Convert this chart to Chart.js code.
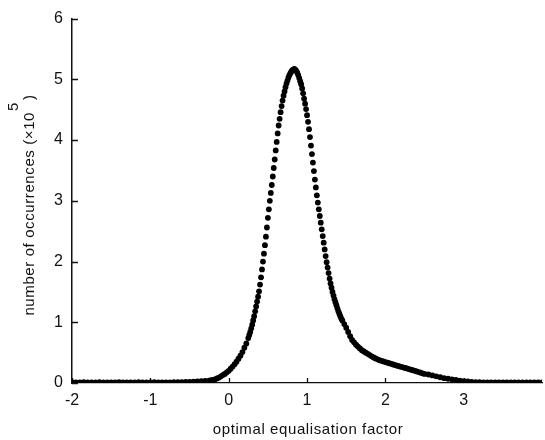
<!DOCTYPE html>
<html>
<head>
<meta charset="utf-8">
<script src="https://cdn.jsdelivr.net/npm/chart.js@4.4.1/dist/chart.umd.min.js"></script>
<style>
  html, body { margin: 0; padding: 0; background: #fff; }
  #wrap { width: 545px; height: 440px; }
</style>
</head>
<body>
<div id="wrap"><canvas id="myChart"></canvas></div>
<script>
// histogram of the optimal equalisation factor (units of 1e5)
const xTicks = [-2, -1, 0, 1, 2, 3];
const yTicks = [0, 1, 2, 3, 4, 5, 6];

// each block: first x, spacing, then the counts
const leftTailStart = -2.0, leftTailStep = 0.05;
const leftTail = [
  0.012, 0.01, 0.01, 0.012, 0.01, 0.01, 0.01, 0.012, 0.01, 0.01,
  0.01, 0.01, 0.012, 0.01, 0.01, 0.01, 0.01, 0.012, 0.01, 0.01,
  0.01, 0.012, 0.01, 0.01, 0.01, 0.01, 0.012, 0.014, 0.016, 0.018,
  0.02, 0.022, 0.026, 0.03, 0.035
];

const riseStart = -0.25, riseStep = 0.025;
const rise = [
  0.04, 0.045, 0.05, 0.06, 0.075, 0.09, 0.11, 0.13, 0.15, 0.175,
  0.2, 0.235, 0.27, 0.31, 0.35, 0.4, 0.45, 0.51, 0.58, 0.65
];

const peakStart = 0.25, peakStep = 0.0125;
const peak = [
  0.74, 0.79, 0.84, 0.90, 0.96, 1.03, 1.10, 1.18,
  1.26, 1.34, 1.42, 1.51, 1.62, 1.74, 1.87, 2.00,
  2.13, 2.27, 2.41, 2.56, 2.72, 2.86, 3.00, 3.13,
  3.26, 3.40, 3.54, 3.68, 3.83, 3.97, 4.11, 4.24,
  4.35, 4.46, 4.56, 4.65, 4.73, 4.80, 4.87, 4.93,
  4.98, 5.03, 5.07, 5.10, 5.13, 5.15, 5.16, 5.17,
  5.16, 5.14, 5.11, 5.07, 5.02, 4.97, 4.92, 4.85,
  4.77, 4.68, 4.60, 4.51, 4.41, 4.30, 4.18, 4.05,
  3.91, 3.77, 3.63, 3.49, 3.35, 3.22, 3.09, 2.97,
  2.86, 2.75, 2.64, 2.53, 2.42, 2.31, 2.20, 2.09,
  1.99, 1.90, 1.81, 1.72, 1.64, 1.57, 1.50, 1.44,
  1.38, 1.33, 1.28, 1.23, 1.18, 1.14, 1.10, 1.06,
  1.03
];

const fallStart = 1.475, fallStep = 0.025;
const fall = [
  0.97, 0.91, 0.84, 0.77, 0.71, 0.67, 0.63, 0.60, 0.57, 0.54,
  0.52, 0.50, 0.48, 0.46, 0.44, 0.42, 0.405, 0.39, 0.375, 0.365,
  0.355, 0.345, 0.335, 0.325, 0.315, 0.305, 0.295, 0.285, 0.276, 0.267,
  0.258, 0.249, 0.24, 0.23, 0.22, 0.21, 0.20, 0.19, 0.18, 0.17,
  0.16, 0.15
];

const rightTailStart = 2.55, rightTailStep = 0.05;
const rightTail = [
  0.14, 0.125, 0.11, 0.095, 0.08, 0.07, 0.06, 0.05, 0.04, 0.032,
  0.025, 0.02, 0.015, 0.012, 0.01, 0.008, 0.008, 0.008, 0.008, 0.008,
  0.008, 0.008, 0.008, 0.008, 0.008, 0.008, 0.008, 0.008, 0.008, 0.008
];

const xTitle = "optimal equalisation factor";
const yTitle = "number of occurrences (\u00d710";
const yTitleExp = "5";

function block(start, step, values) {
  return values.map((v, i) => ({ x: +(start + i * step).toFixed(4), y: v }));
}

const points = [].concat(
  block(leftTailStart, leftTailStep, leftTail),
  block(riseStart, riseStep, rise),
  block(peakStart, peakStep, peak),
  block(fallStart, fallStep, fall),
  block(rightTailStart, rightTailStep, rightTail)
);

const FONT = '"Liberation Sans", Arial, Helvetica, sans-serif';
const INK = "#111";

// ticks in the scan point into the plot, so draw them by hand
const decorations = {
  id: "decorations",
  beforeDatasetsDraw(chart) {
    const { ctx, chartArea, scales } = chart;
    ctx.save();
    ctx.strokeStyle = INK;
    ctx.lineWidth = 1.3;
    ctx.beginPath();
    scales.x.ticks.forEach(t => {
      const px = Math.round(scales.x.getPixelForValue(t.value)) + 0.5;
      ctx.moveTo(px, chartArea.bottom);
      ctx.lineTo(px, chartArea.bottom - 5);
    });
    scales.y.ticks.forEach(t => {
      const py = Math.round(scales.y.getPixelForValue(t.value)) + 0.5;
      ctx.moveTo(chartArea.left, py);
      ctx.lineTo(chartArea.left + 6, py);
    });
    ctx.stroke();
    ctx.restore();
  },
  afterDraw(chart) {
    const ctx = chart.ctx;
    ctx.save();
    ctx.fillStyle = INK;
    ctx.font = "15px " + FONT;
    ctx.letterSpacing = "0.6px";
    ctx.textBaseline = "alphabetic";

    ctx.textAlign = "center";
    ctx.fillText(xTitle, 308, 434);

    // y title, rotated, with a raised exponent
    const wMain = ctx.measureText(yTitle).width;
    const wExp = ctx.measureText(yTitleExp).width;
    const wClose = ctx.measureText(")").width;
    const total = wMain + wExp + wClose + 3;
    ctx.translate(34, 205);
    ctx.rotate(-Math.PI / 2);
    ctx.textAlign = "left";
    let cx = -total / 2;
    ctx.fillText(yTitle, cx, 0);
    cx += wMain + 1;
    ctx.fillText(yTitleExp, cx, -16);
    cx += wExp + 2;
    ctx.fillText(")", cx, 0);
    ctx.restore();
  }
};

new Chart(document.getElementById("myChart"), {
  type: "scatter",
  data: {
    datasets: [{
      data: points,
      pointRadius: 2.9,
      pointHoverRadius: 2.9,
      pointBorderWidth: 0,
      pointBackgroundColor: "#000",
      showLine: false
    }]
  },
  options: {
    responsive: true,
    maintainAspectRatio: false,
    animation: false,
    layout: { padding: { top: 18, right: 0, bottom: 0, left: 0 } },
    plugins: { legend: { display: false }, tooltip: { enabled: false } },
    scales: {
      x: {
        type: "linear",
        min: -2,
        max: 4,
        afterBuildTicks: s => { s.ticks = xTicks.map(v => ({ value: v })); },
        afterFit: s => { s.height = 57; },
        ticks: { padding: 8, color: INK, font: { family: FONT, size: 16 } },
        grid: { drawOnChartArea: false, drawTicks: false },
        border: { display: true, color: INK, width: 1.2 }
      },
      y: {
        type: "linear",
        min: 0,
        max: 6,
        afterBuildTicks: s => { s.ticks = yTicks.map(v => ({ value: v })); },
        afterFit: s => { s.width = 72; },
        ticks: { padding: 9, color: INK, font: { family: FONT, size: 16 } },
        grid: { drawOnChartArea: false, drawTicks: false },
        border: { display: true, color: INK, width: 1.5 }
      }
    }
  },
  plugins: [decorations]
});
</script>
</body>
</html>
